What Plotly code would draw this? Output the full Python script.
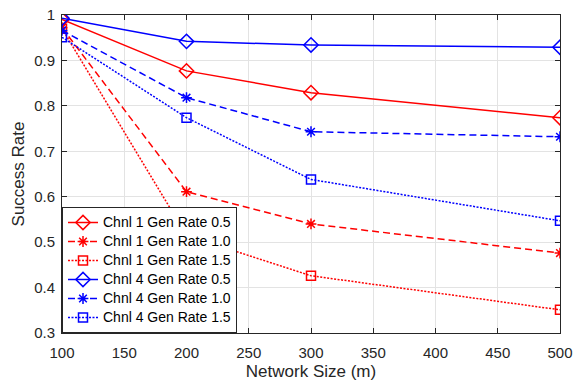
import plotly.graph_objects as go

# Network sizes (m)
network_size = [100, 200, 300, 500]

# Success rate per channel / generation rate
chnl1_rate05 = [0.990, 0.877, 0.829, 0.774]
chnl1_rate10 = [0.972, 0.611, 0.540, 0.476]
chnl1_rate15 = [0.970, 0.515, 0.426, 0.351]
chnl4_rate05 = [0.993, 0.942, 0.934, 0.929]
chnl4_rate10 = [0.966, 0.818, 0.743, 0.732]
chnl4_rate15 = [0.951, 0.774, 0.638, 0.547]

series_names = [
    "Chnl 1 Gen Rate 0.5", "Chnl 1 Gen Rate 1.0", "Chnl 1 Gen Rate 1.5",
    "Chnl 4 Gen Rate 0.5", "Chnl 4 Gen Rate 1.0", "Chnl 4 Gen Rate 1.5",
]

x_ticks = [100, 150, 200, 250, 300, 350, 400, 450, 500]
y_ticks = [0.3, 0.4, 0.5, 0.6, 0.7, 0.8, 0.9, 1.0]
y_tick_text = ["0.3", "0.4", "0.5", "0.6", "0.7", "0.8", "0.9", "1"]

RED = "#FF0000"
BLUE = "#0000FF"
AX = "#262626"
FONT = "Liberation Sans, Arial, sans-serif"

styles = [
    (chnl1_rate05, RED, "solid", "diamond-open", 11),
    (chnl1_rate10, RED, "7px,4px", "asterisk-open", 9),
    (chnl1_rate15, RED, "2px,1.5px", "square-open", 9),
    (chnl4_rate05, BLUE, "solid", "diamond-open", 11),
    (chnl4_rate10, BLUE, "7px,4px", "asterisk-open", 9),
    (chnl4_rate15, BLUE, "2px,1.5px", "square-open", 9),
]

fig = go.Figure()
for name, (vals, color, dash, symbol, size) in zip(series_names, styles):
    fig.add_trace(go.Scatter(
        x=network_size, y=vals, mode="lines+markers",
        # legend rows are kept compact; entry text is set at 14px
        name=f'<span style="font-size:14px">{name}</span>',
        line=dict(color=color, width=1.5, dash=dash),
        marker=dict(symbol=symbol, size=size, color=color,
                    line=dict(color=color, width=1.5)),
    ))

axis_common = dict(
    showline=True, linecolor=AX, linewidth=1, mirror="ticks",
    ticks="inside", ticklen=5, tickwidth=1, tickcolor=AX,
    showgrid=True, gridcolor="#e3e3e3", gridwidth=1,
    zeroline=False, automargin=False,
    tickfont=dict(family=FONT, size=15, color=AX),
    title_font=dict(family=FONT, size=17, color=AX),
)

fig.update_xaxes(range=[100, 500], tickvals=x_ticks, ticklabelstandoff=6,
                 title_text="Network Size (m)", title_standoff=6, **axis_common)
fig.update_yaxes(range=[0.3, 1.0], tickvals=y_ticks, ticktext=y_tick_text,
                 ticklabelstandoff=3,
                 title_text="Success Rate", title_standoff=5, **axis_common)

fig.update_layout(
    width=583, height=381,
    margin=dict(l=62, r=23, t=15, b=48),
    paper_bgcolor="white", plot_bgcolor="white",
    font=dict(family=FONT, color="#000000"),
    legend=dict(
        x=0, y=0, xanchor="left", yanchor="bottom",
        bgcolor="white", bordercolor=AX, borderwidth=1,
        font=dict(family=FONT, size=11, color="#000000"),
        itemwidth=30, tracegroupgap=0,
    ),
)

fig.write_html("out.html")
